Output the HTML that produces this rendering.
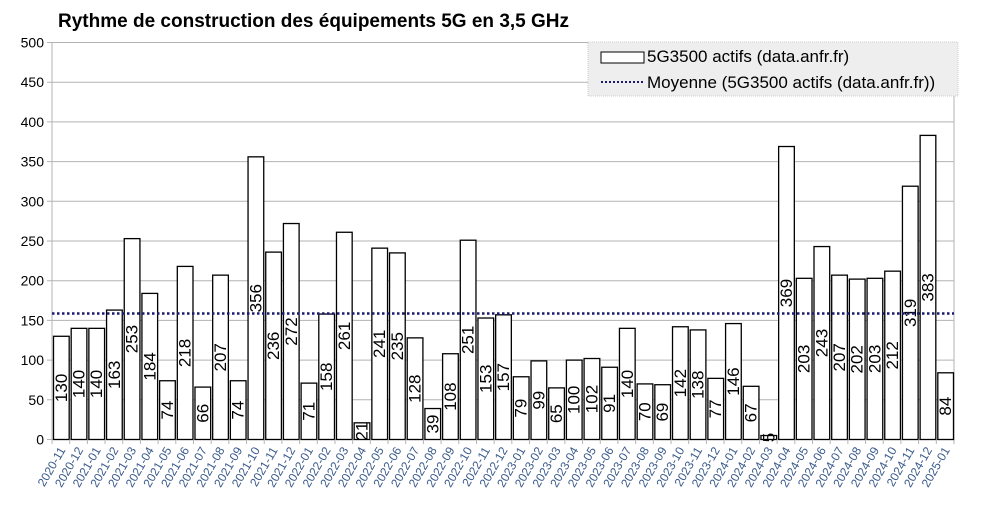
<!DOCTYPE html>
<html><head><meta charset="utf-8"><style>body{margin:0;background:#fff}svg{display:block}</style></head>
<body>
<svg id="c" width="985" height="508" xmlns="http://www.w3.org/2000/svg" font-family="Liberation Sans, sans-serif"></svg>
<script>
const v=[130,140,140,163,253,184,74,218,66,207,74,356,236,272,71,158,261,21,241,235,128,39,108,251,153,157,79,99,65,100,102,91,140,70,69,142,138,77,146,67,5,369,203,243,207,202,203,212,319,383,84];
const L=[];let y=2020,m=11;for(let i=0;i<51;i++){L.push(y+"-"+String(m).padStart(2,"0"));m++;if(m>12){m=1;y++;}}
const x0=52,x1=954,yb=439.5,k=0.794,w=(x1-x0)/51;
let s='<text x="58" y="27" font-size="19" font-weight="bold">Rythme de construction des équipements 5G en 3,5 GHz</text>';
for(let t=0;t<=500;t+=50){const yy=yb-t*k;s+=`<line x1="47" x2="${x1}" y1="${yy}" y2="${yy}" stroke="#b3b3b3"/><text x="44" y="${yy+5}" font-size="14" text-anchor="end">${t}</text>`;}
s+=`<line x1="${x0}" x2="${x0}" y1="42" y2="444" stroke="#b3b3b3"/><line x1="${x1}" x2="${x1}" y1="42" y2="444" stroke="#b3b3b3"/>`;
for(let i=0;i<51;i++){const xl=x0+i*w+1,h=v[i]*k,cx=x0+(i+0.5)*w;
s+=`<rect x="${xl+0.5}" y="${yb-h}" width="${w-2}" height="${h}" fill="#fff" stroke="#000" stroke-width="1.3"/>`;
s+=`<line x1="${x0+i*w}" x2="${x0+i*w}" y1="${yb}" y2="444" stroke="#b3b3b3"/>`;
const my=yb-h/2;s+=`<text transform="translate(${cx+6},${my}) rotate(-90)" font-size="17" text-anchor="middle">${v[i]}</text>`;
s+=`<text transform="translate(${cx+5},450) rotate(-60)" font-size="12" fill="#3b5b8c" text-anchor="end">${L[i]}</text>`;}
s+=`<line x1="${x0}" x2="${x1}" y1="313.5" y2="313.5" stroke="#1a1a6e" stroke-width="2.5" stroke-dasharray="2.5,2.5"/>`;
s+=`<rect x="588" y="42" width="370" height="54" fill="#eeeeee" stroke="#ccc" stroke-dasharray="1,1"/>`;
s+=`<rect x="601" y="52" width="43" height="11" fill="#fff" stroke="#000"/><text x="647" y="62" font-size="17">5G3500 actifs (data.anfr.fr)</text>`;
s+=`<line x1="601" x2="644" y1="82" y2="82" stroke="#1a1a6e" stroke-width="2" stroke-dasharray="2,2"/><text x="647" y="88" font-size="17">Moyenne (5G3500 actifs (data.anfr.fr))</text>`;
document.getElementById('c').innerHTML=s;
</script>
</body></html>
